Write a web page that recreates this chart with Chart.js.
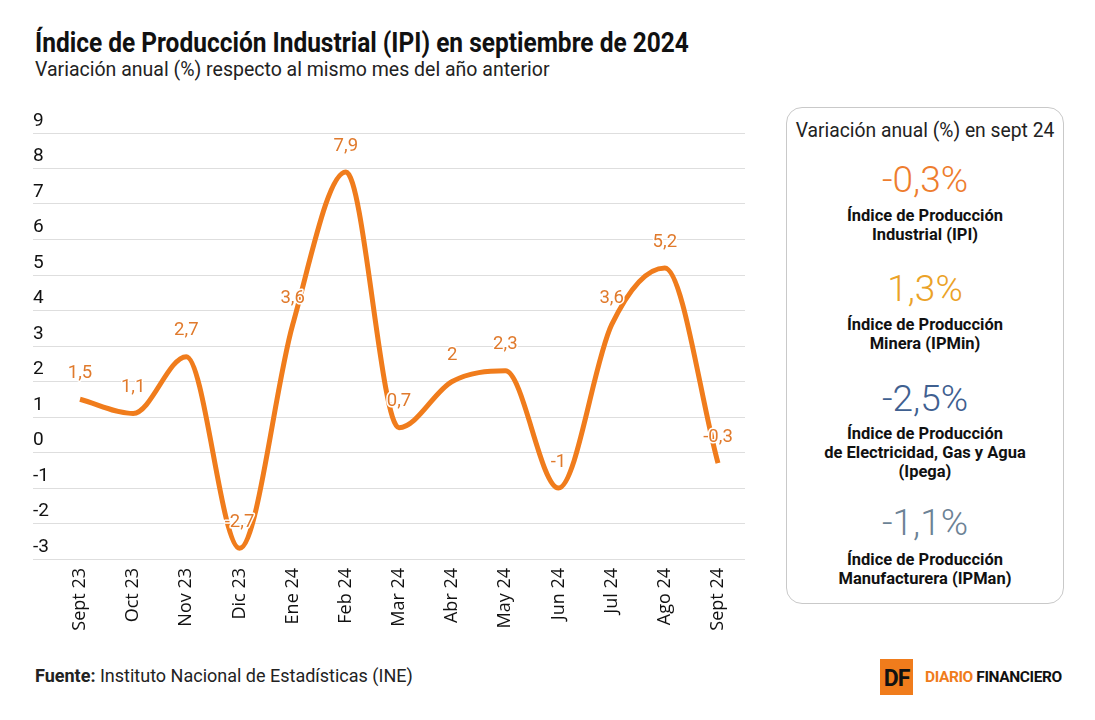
<!DOCTYPE html>
<html lang="es">
<head>
<meta charset="utf-8">
<script src="https://cdn.jsdelivr.net/npm/chart.js@4.4.1/dist/chart.umd.min.js"></script>
<style>
  body { margin: 0; background: #fff; font-family: Roboto, "Noto Sans", sans-serif; color: #111; }
  #page { position: relative; width: 1095px; height: 720px; overflow: hidden; }
  .sq { display: inline-block; transform-origin: left center; white-space: nowrap; }
  #title { position: absolute; left: 35px; top: 26px; font-size: 28px; font-weight: 700; transform: scaleX(0.874); }
  #subtitle { position: absolute; left: 35px; top: 58px; font-size: 19.5px; color: #222; white-space: nowrap; }
  #chartBox { position: absolute; left: 0; top: 100px; width: 770px; height: 545px; }
  #panel { position: absolute; left: 786px; top: 107px; width: 276px; height: 495px;
           border: 1px solid #c9c9c9; border-radius: 16px; text-align: center; }
  #panel .head { margin-top: 12px; font-size: 19.3px; line-height: 22px; color: #222; white-space: nowrap; }
  #panel .num { font-size: 37px; font-weight: 300; line-height: 40px; }
  #panel .lbl { font-size: 17px; font-weight: 700; line-height: 19px; color: #111; }
  #panel .lbl span { display: block; transform: scaleX(0.97); white-space: nowrap; }
  #source { position: absolute; left: 35px; top: 665px; font-size: 18px; color: #222; white-space: nowrap; }
  #logo { position: absolute; left: 880px; top: 659px; height: 36px; }
  #logo .df { position: absolute; left: 0; top: 0; width: 33px; height: 36px; background: #f07c1c;
              color: #111; font: 700 23px Roboto, sans-serif; line-height: 40px; text-align: center; letter-spacing: -1px; }
  #logo .name { position: absolute; left: 45px; top: 9px; font: 700 15.5px Roboto, sans-serif; white-space: nowrap;
                letter-spacing: -0.4px; }
</style>
</head>
<body>
<div id="page">
  <div id="title" class="sq">Índice de Producción Industrial (IPI) en septiembre de 2024</div>
  <div id="subtitle">Variación anual (%) respecto al mismo mes del año anterior</div>
  <div id="chartBox"><canvas id="myChart"></canvas></div>

  <div id="panel">
    <div class="head">Variación anual (%) en sept 24</div>
    <div class="num" style="color:#ee7d2e;margin-top:18px">-0,3%</div>
    <div class="lbl" style="margin-top:5.5px"><span>Índice de Producción<br>Industrial (IPI)</span></div>
    <div class="num" style="color:#eba227;margin-top:25.5px">1,3%</div>
    <div class="lbl" style="margin-top:5.5px"><span>Índice de Producción<br>Minera (IPMin)</span></div>
    <div class="num" style="color:#3f6090;margin-top:26.5px">-2,5%</div>
    <div class="lbl" style="margin-top:4.5px"><span>Índice de Producción<br>de Electricidad, Gas y Agua<br>(Ipega)</span></div>
    <div class="num" style="color:#6c8295;margin-top:22.5px">-1,1%</div>
    <div class="lbl" style="margin-top:6.5px"><span>Índice de Producción<br>Manufacturera (IPMan)</span></div>
  </div>

  <div id="source"><b>Fuente:</b> Instituto Nacional de Estadísticas (INE)</div>
  <div id="logo">
    <div class="df">DF</div>
    <div class="name"><span style="color:#f07c1c">DIARIO</span> FINANCIERO</div>
  </div>
</div>

<script>
// datos del IPI
const meses = ['Sept 23', 'Oct 23', 'Nov 23', 'Dic 23', 'Ene 24', 'Feb 24', 'Mar 24',
               'Abr 24', 'May 24', 'Jun 24', 'Jul 24', 'Ago 24', 'Sept 24'];
const ipi = [1.5, 1.1, 2.7, -2.7, 3.6, 7.9, 0.7, 2, 2.3, -1, 3.6, 5.2, -0.3];
const yMin = -3;
const yMax = 9;

const naranjo = '#f07c1c';
const grilla = '#dedede';

// etiquetas sobre cada punto
const etiquetas = {
  id: 'etiquetas',
  afterDatasetsDraw(chart) {
    const ctx = chart.ctx;
    const meta = chart.getDatasetMeta(0);
    ctx.save();
    ctx.font = '18.5px Roboto';
    ctx.textAlign = 'center';
    ctx.textBaseline = 'middle';
    ctx.lineJoin = 'round';
    meta.data.forEach(function(pt, i) {
      const txt = String(ipi[i]).replace('.', ',');
      ctx.strokeStyle = '#fff';
      ctx.lineWidth = 3;
      ctx.strokeText(txt, pt.x, pt.y - 26);
      ctx.fillStyle = '#e07a2c';
      ctx.fillText(txt, pt.x, pt.y - 26);
    });
    ctx.restore();
  }
};

const chartArea = document.getElementById('myChart').getContext('2d');

const myChart = new Chart(chartArea, {
  type: 'line',
  data: {
    labels: meses,
    datasets: [{
      data: ipi,
      borderColor: naranjo,
      borderWidth: 5,
      pointRadius: 0,
      cubicInterpolationMode: 'monotone',
      clip: false
    }]
  },
  options: {
    responsive: true,
    maintainAspectRatio: false,
    animation: false,
    layout: { padding: { left: 33, right: 25, top: 33, bottom: 0 } },
    plugins: { legend: { display: false }, tooltip: { enabled: false } },
    scales: {
      x: {
        grid: { display: false, drawTicks: false },
        border: { display: false },
        ticks: {
          minRotation: 90, maxRotation: 90, padding: 9,
          color: '#111', font: { family: 'Open Sans', size: 18 }
        },
        afterFit: function(s) { s.height = 86; }
      },
      y: {
        min: yMin, max: yMax,
        grid: { color: grilla, tickLength: 47, tickColor: grilla },
        border: { display: false },
        ticks: {
          stepSize: 1, crossAlign: 'far', labelOffset: -12, padding: 0,
          color: '#111', font: { family: 'Roboto', size: 19 }
        },
        afterFit: function(s) { s.width = 47; }
      },
      y2: {
        position: 'right',
        min: yMin, max: yMax,
        grid: { drawOnChartArea: false, color: grilla, tickLength: 27, tickColor: grilla },
        border: { display: false },
        ticks: { stepSize: 1, display: false },
        afterFit: function(s) { s.width = 27; }
      }
    }
  },
  plugins: [etiquetas]
});
</script>
</body>
</html>
